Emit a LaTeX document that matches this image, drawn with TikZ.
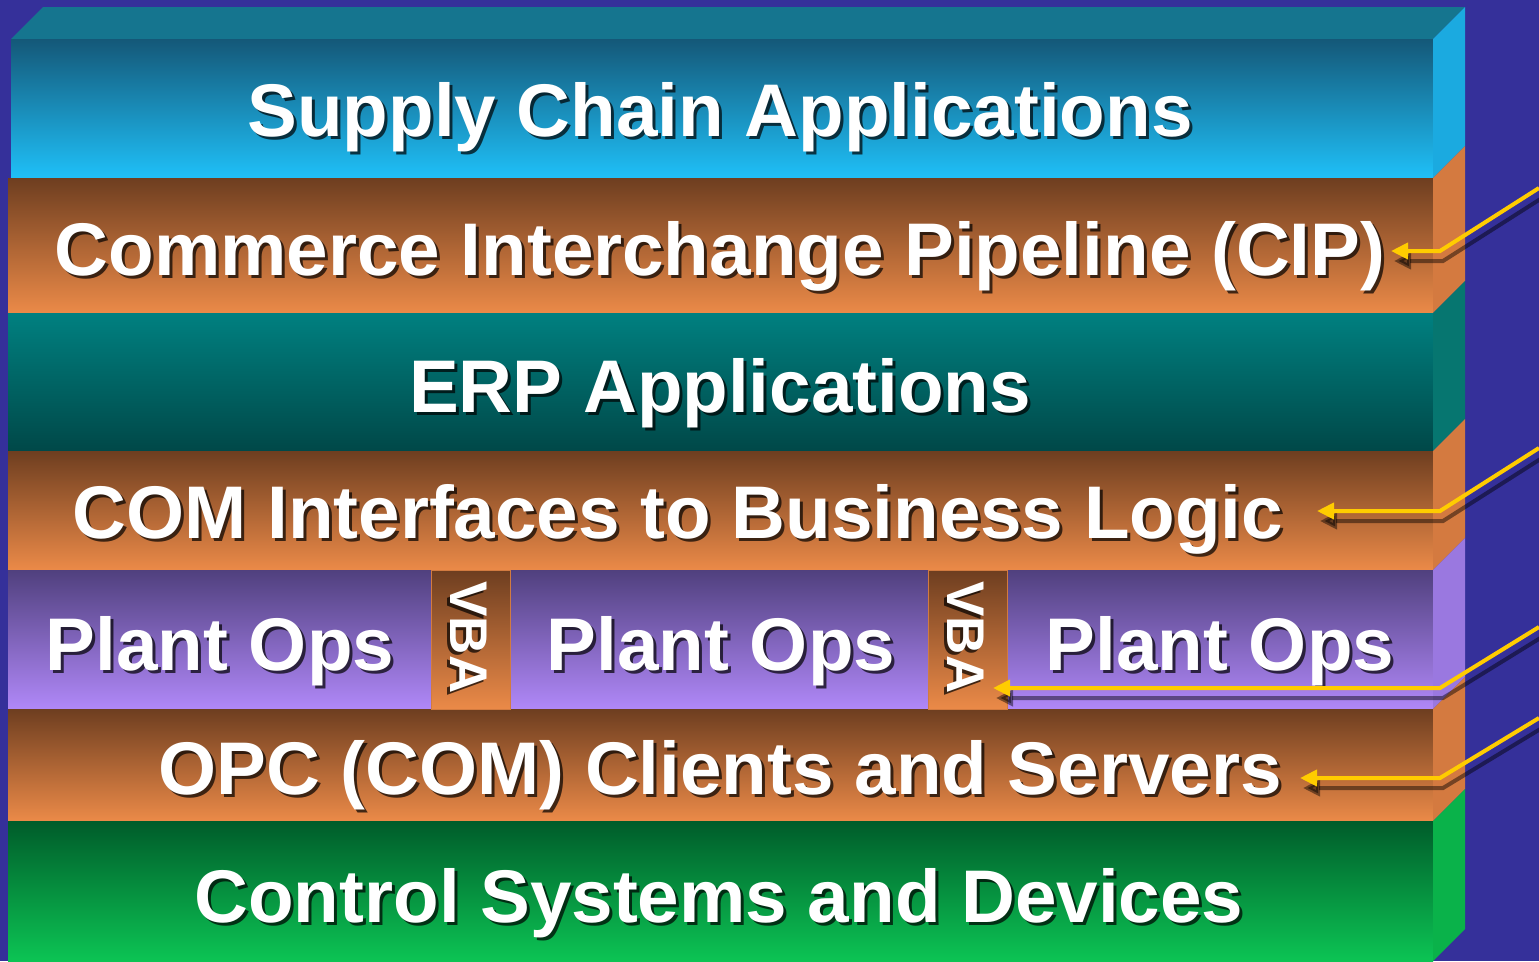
\documentclass[tikz,border=0pt]{standalone}
\usepackage{fontspec}
\setmainfont{Liberation Sans}
\usetikzlibrary{arrows.meta}
\definecolor{bg}{RGB}{53,48,154}
\definecolor{topface}{RGB}{21,117,143}
\definecolor{sctop}{RGB}{20,88,120}\definecolor{scmid}{RGB}{24,146,194}\definecolor{scbot}{RGB}{31,192,248}\definecolor{scside}{RGB}{27,170,224}
\definecolor{brtop}{RGB}{110,62,32}\definecolor{brmid}{RGB}{192,110,56}\definecolor{brbot}{RGB}{235,138,72}\definecolor{brside}{RGB}{212,122,64}
\definecolor{ertop}{RGB}{0,128,128}\definecolor{ermid}{RGB}{0,106,106}\definecolor{erbot}{RGB}{0,72,72}\definecolor{erside}{RGB}{6,118,112}
\definecolor{pltop}{RGB}{80,64,126}\definecolor{plmid}{RGB}{136,104,200}\definecolor{plbot}{RGB}{176,136,248}\definecolor{plside}{RGB}{154,120,224}
\definecolor{cstop}{RGB}{0,92,42}\definecolor{csmid}{RGB}{0,150,63}\definecolor{csbot}{RGB}{12,196,84}\definecolor{csside}{RGB}{10,178,74}
\definecolor{arrowyellow}{RGB}{255,204,0}
\tikzset{
  lbl/.style={font=\fontsize{74.6}{80}\selectfont\bfseries, text=white, inner sep=0pt, anchor=base},
  lblsh/.style={lbl, text=black, opacity=0.7},
  vbalbl/.style={font=\fontsize{53}{60}\selectfont\bfseries, text=white, inner sep=0pt, anchor=base, rotate=-90},
  vbash/.style={vbalbl, text=black, opacity=0.7},
  scshade/.style={top color=sctop, middle color=scmid, bottom color=scbot},
  brshade/.style={top color=brtop, middle color=brmid, bottom color=brbot},
  ershade/.style={top color=ertop, middle color=ermid, bottom color=erbot},
  plshade/.style={top color=pltop, middle color=plmid, bottom color=plbot},
  csshade/.style={top color=cstop, middle color=csmid, bottom color=csbot},
  vbabox/.style={brshade, draw=brbot!80!brtop, line width=1pt},
  pointer/.style={draw=arrowyellow, line width=4pt, line join=miter, -{Triangle[length=17pt,width=16pt]}},
  pointersh/.style={draw=black, opacity=0.45, line width=4pt, line join=miter, -{Triangle[length=17pt,width=16pt]}},
}
\newcommand\shtext[4]{\node[lblsh] at (#2+3,#3+3) {#4};\node[lbl] (#1) at (#2,#3) {#4};}
\begin{document}
\begin{tikzpicture}[x=1pt,y=-1pt]
\useasboundingbox (0,0) rectangle (1539,961);
\fill[bg] (0,0) rectangle (1539,961);
% top face
\fill[topface] (11,39) -- (43,7) -- (1465,7) -- (1433,39) -- cycle;
% front faces
\shade[scshade] (11,39) rectangle (1433,178);
\shade[brshade] (8,178) rectangle (1433,313);
\shade[ershade] (8,313) rectangle (1433,451);
\shade[brshade] (8,451) rectangle (1433,570);
\shade[plshade] (8,570) rectangle (1433,709);
\shade[brshade] (8,709) rectangle (1433,821);
\shade[csshade] (8,821) rectangle (1433,961);
% side faces
\fill[scside] (1433,39) -- (1465,7) -- (1465,146) -- (1433,178) -- cycle;
\fill[brside] (1433,178) -- (1465,146) -- (1465,281) -- (1433,313) -- cycle;
\fill[erside] (1433,313) -- (1465,281) -- (1465,419) -- (1433,451) -- cycle;
\fill[brside] (1433,451) -- (1465,419) -- (1465,538) -- (1433,570) -- cycle;
\fill[plside] (1433,570) -- (1465,538) -- (1465,677) -- (1433,709) -- cycle;
\fill[brside] (1433,709) -- (1465,677) -- (1465,789) -- (1433,821) -- cycle;
\fill[csside] (1433,821) -- (1465,789) -- (1465,929) -- (1433,961) -- cycle;
% VBA boxes
\shade[vbabox] (431,570.5) rectangle (510,709);
\shade[vbabox] (928,570.5) rectangle (1007,709);
% labels
\shtext{supply}{720}{136}{Supply Chain Applications}
\shtext{cip}{720}{275}{Commerce Interchange Pipeline (CIP)}
\shtext{erp}{720}{412}{ERP Applications}
\shtext{com}{678}{538}{COM Interfaces to Business Logic}
\shtext{plantA}{220}{670}{Plant Ops}
\shtext{plantB}{721}{670}{Plant Ops}
\shtext{plantC}{1220}{670}{Plant Ops}
\shtext{opc}{720}{794}{OPC (COM) Clients and Servers}
\shtext{ctrl}{719}{922}{Control Systems and Devices}
\node[vbash] at (447,640.5) {VBA};
\node[vbalbl] (vbaA) at (450,637.5) {VBA};
\node[vbash] at (944,640.5) {VBA};
\node[vbalbl] (vbaB) at (947,637.5) {VBA};
% pointer coordinates
\coordinate (p1s) at (1539,188); \coordinate (p1c) at (1440,251); \coordinate (p1t) at (1391,251);
\coordinate (p2s) at (1539,448); \coordinate (p2c) at (1440,511); \coordinate (p2t) at (1317,511);
\coordinate (p3s) at (1539,627); \coordinate (p3c) at (1440,688); \coordinate (p3t) at (993,688);
\coordinate (p4s) at (1539,718); \coordinate (p4c) at (1440,778); \coordinate (p4t) at (1300,778);
% pointer shadows
\foreach \p in {p1,p2,p3,p4}{
  \draw[pointersh] ([shift={(3,10)}]\p s) -- ([shift={(3,10)}]\p c) -- ([shift={(3,10)}]\p t);
}
% pointers
\foreach \p in {p1,p2,p3,p4}{
  \draw[pointer] (\p s) -- (\p c) -- (\p t);
}
\end{tikzpicture}
\end{document}
